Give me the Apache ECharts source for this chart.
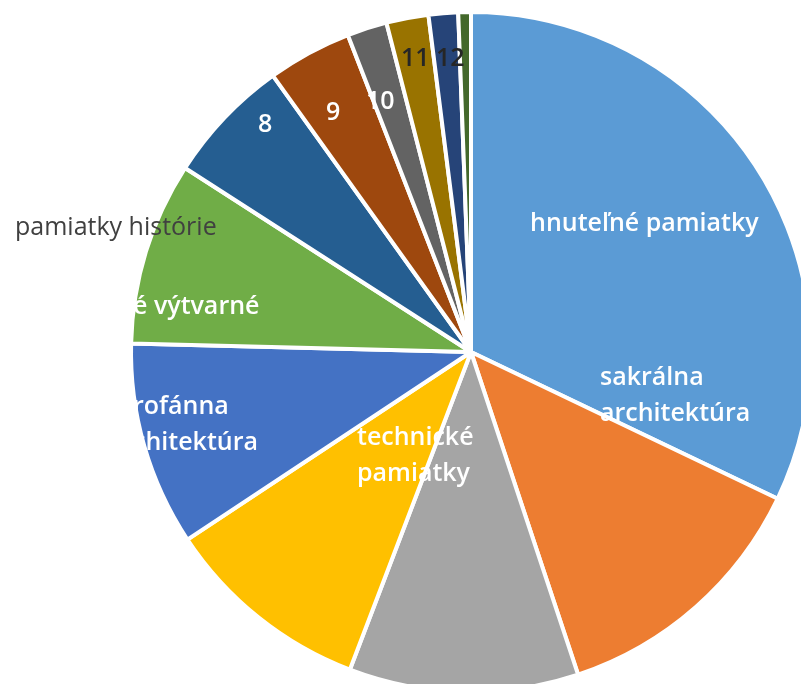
<!DOCTYPE html>
<html>
<head>
<meta charset="utf-8">
<script src="https://cdn.jsdelivr.net/npm/echarts/dist/echarts.min.js"></script>
<style>
html,body{margin:0;padding:0;background:#ffffff;}
#chart{width:801px;height:684px;}
</style>
</head>
<body>
<div id="chart"></div>
<script>
// Slices in clockwise order starting at 12 o'clock
const categories = [
  'hnuteľné pamiatky', 'sakrálna architektúra', 'technické pamiatky',
  'rofánna chitektúra', 'é výtvarné', 'pamiatky histórie',
  '8', '9', '10', '11', '12', ''
];
const labelTexts = [
  'hnuteľné pamiatky', 'sakrálna\narchitektúra', 'technické\npamiatky',
  'rofánna\nchitektúra', 'é výtvarné', 'pamiatky histórie',
  '8', '9', '10', '11', '12', ''
];
const values = [32.1, 12.8, 10.9, 9.9, 9.7, 8.7, 6.0, 4.0, 1.9, 2.0, 1.4, 0.6];
const colors = ['#5B9BD5', '#ED7D31', '#A5A5A5', '#FFC000', '#4472C4', '#70AD47',
                '#255E91', '#9E480E', '#636363', '#997300', '#264478', '#43682B'];

// label placement (left edge, vertical middle) and colours
const labelPlace = [
  [530, 224], [600, 396], [357, 456], [133, 425], [133, 307], [15, 228],
  [258, 125], [326, 113], [366, 102], [401, 59], [436, 59], [0, 0]
];
const labelColors = ['#ffffff', '#ffffff', '#ffffff', '#ffffff', '#ffffff', '#404040',
                     '#ffffff', '#ffffff', '#ffffff', '#262626', '#262626', '#ffffff'];

const chart = echarts.init(document.getElementById('chart'), null, {renderer: 'canvas'});

const data = categories.map((name, i) => ({
  name: name,
  value: values[i],
  itemStyle: {color: colors[i]},
  label: {
    show: labelTexts[i] !== '',
    color: labelColors[i],
    fontWeight: i === 5 ? 'normal' : 600
  }
}));

chart.setOption({
  animation: false,
  backgroundColor: '#ffffff',
  series: [{
    type: 'pie',
    center: [471, 352],
    radius: 340,
    startAngle: 90,
    clockwise: true,
    avoidLabelOverlap: false,
    silent: true,
    itemStyle: {borderColor: '#ffffff', borderWidth: 4},
    label: {
      show: true,
      position: 'inside',
      formatter: p => labelTexts[p.dataIndex],
      fontFamily: 'Open Sans',
      fontSize: 25,
      lineHeight: 36,
      align: 'left'
    },
    labelLine: {show: false},
    labelLayout: function (p) {
      const pl = labelPlace[p.dataIndex];
      return {x: pl[0], y: pl[1], align: 'left', verticalAlign: 'middle'};
    },
    data: data
  }]
});
</script>
</body>
</html>
